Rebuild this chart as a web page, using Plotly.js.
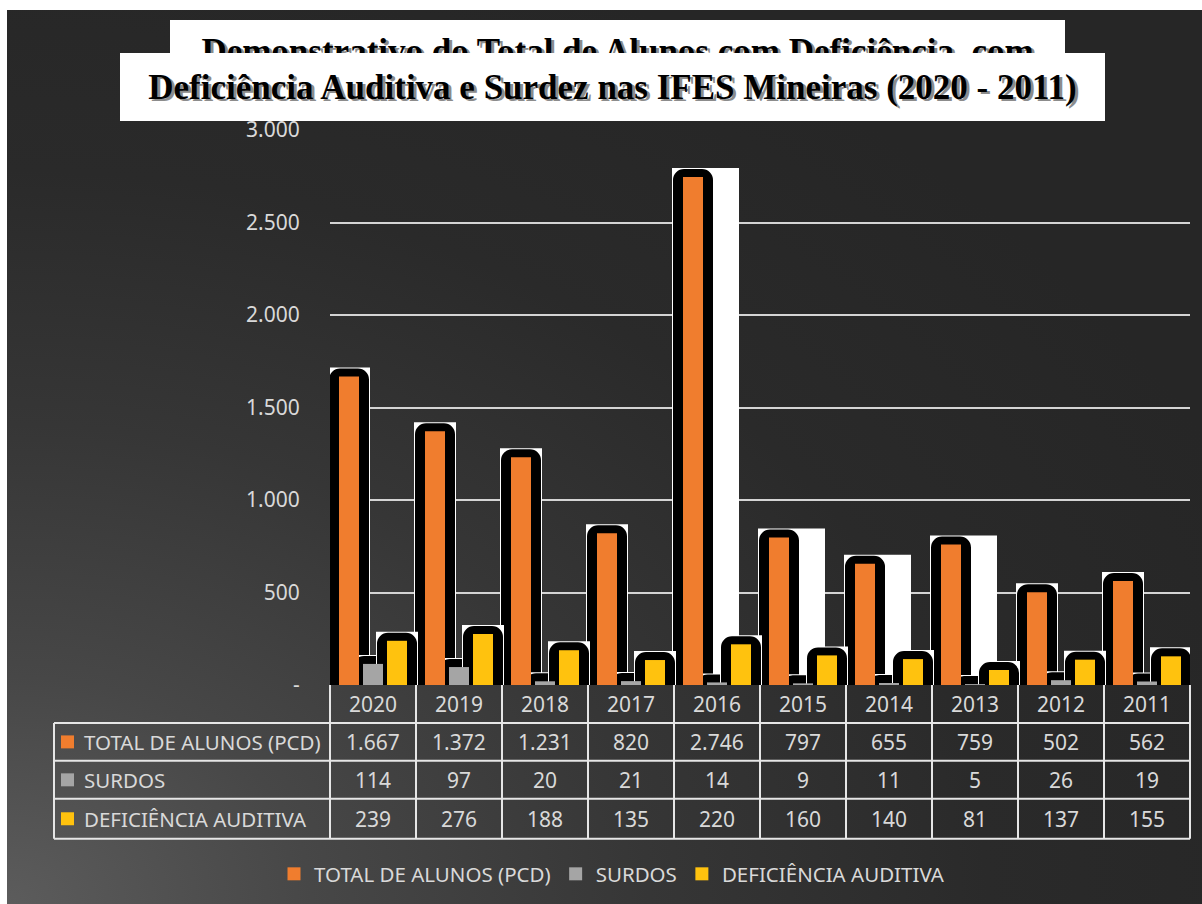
<!DOCTYPE html>
<html>
<head>
<meta charset="utf-8">
<script src="https://cdn.plot.ly/plotly-3.0.1.min.js"></script>
<style>
  html, body { margin: 0; padding: 0; background: #ffffff; width: 1202px; height: 904px; overflow: hidden; }
  #bg { position: absolute; left: 7px; top: 10px; width: 1195px; height: 894px;
        background: radial-gradient(ellipse at 0% 100%, #5c5c5c 0%, #474747 18%, #363636 38%, #2a2a2a 58%, #262626 80%); }
  #chart { position: absolute; left: 0; top: 0; width: 1202px; height: 904px; }
</style>
</head>
<body>
<div id="bg"></div>
<div id="chart"></div>
<script>
// ---------- data ----------
const years = ['2020', '2019', '2018', '2017', '2016', '2015', '2014', '2013', '2012', '2011'];
const totalAlunos = [1667, 1372, 1231, 820, 2746, 797, 655, 759, 502, 562];
const surdos = [114, 97, 20, 21, 14, 9, 11, 5, 26, 19];
const defAuditiva = [239, 276, 188, 135, 220, 160, 140, 81, 137, 155];
const seriesNames = ['TOTAL DE ALUNOS (PCD)', 'SURDOS', 'DEFICIÊNCIA AUDITIVA'];
const yTickVals = [0, 500, 1000, 1500, 2000, 2500, 3000];
const yTickText = ['-', '500', '1.000', '1.500', '2.000', '2.500', '3.000'];
const titleLine1 = 'Demonstrativo do Total de Alunos com Deficiência, com';
const titleLine2 = 'Deficiência Auditiva e Surdez nas IFES Mineiras (2020 - 2011)';

// ---------- styles ----------
const colors = ['#F07D2E', '#A5A5A5', '#FFC20E'];
const wideShadow = [false, false, false, false, true, true, true, true, false, false];
const W = 1202, H = 904, L = 330, R = 12, T = 130, B = 218;
const PW = W - L - R, PH = H - T - B;
const px2x = px => (px - L) / PW;
const px2y = py => (H - B - py) / PH;
const catPx = PW / years.length;
const u = px => px / catPx;
const textCol = '#d9d9d9';
const fontSans = 'Noto Sans, Open Sans, sans-serif';

function fmt(v) { return String(v).replace(/\B(?=(\d{3})+(?!\d))/g, '.'); }

// white halo box behind each bar
function haloTrace(vals, centerPx, wideFlags) {
  return {
    type: 'bar', x: years, y: vals, showlegend: false, hoverinfo: 'skip',
    offset: vals.map(() => u(centerPx - 12)),
    width: vals.map((v, i) => u(wideFlags && wideFlags[i] ? 49 : 24)),
    marker: { color: '#ffffff', line: { color: '#ffffff', width: 18 } }
  };
}
// thick black outline
function outlineTrace(vals, centerPx) {
  return {
    type: 'bar', x: years, y: vals, showlegend: false, hoverinfo: 'skip',
    offset: u(centerPx - 12), width: u(24),
    marker: { color: '#000000', line: { color: '#000000', width: 16 }, cornerradius: 3 }
  };
}
// coloured bar
function fillTrace(vals, color, centerPx, name) {
  return {
    type: 'bar', x: years, y: vals, name: name, showlegend: false,
    offset: u(centerPx - 10), width: u(20),
    marker: { color: color, line: { width: 0 } }
  };
}
const centers = [-24, 0, 24];
const seriesVals = [totalAlunos, surdos, defAuditiva];

const traces = [];
seriesVals.forEach((vals, k) => {
  traces.push(haloTrace(vals, centers[k], k === 0 ? wideShadow : null));
  traces.push(outlineTrace(vals, centers[k]));
});
seriesVals.forEach((vals, k) => {
  traces.push(fillTrace(vals, colors[k], centers[k], seriesNames[k]));
});
// legend entries
seriesNames.forEach((n, k) => {
  traces.push({ type: 'scatter', mode: 'markers', x: [years[0]], y: [-1000], name: n,
    marker: { symbol: 'square', size: 13, color: colors[k] }, hoverinfo: 'skip', cliponaxis: true });
});

// ---------- table ----------
const shapes = [];
const annotations = [];
const lineStyle = { color: '#e6e6e6', width: 2 };
const rowTops = [686, 724, 762, 800, 840];
const tableLeft = 54, tableRight = L + PW;
[724, 762, 800, 840].forEach(py => {
  shapes.push({ type: 'line', xref: 'paper', yref: 'paper', x0: px2x(tableLeft), x1: px2x(tableRight),
    y0: px2y(py), y1: px2y(py), line: lineStyle, layer: 'above' });
});
for (let i = 0; i <= years.length; i++) {
  const px = L + i * catPx;
  shapes.push({ type: 'line', xref: 'paper', yref: 'paper', x0: px2x(px), x1: px2x(px),
    y0: px2y(686), y1: px2y(840), line: lineStyle, layer: 'above' });
}
shapes.push({ type: 'line', xref: 'paper', yref: 'paper', x0: px2x(tableLeft), x1: px2x(tableLeft),
  y0: px2y(724), y1: px2y(840), line: lineStyle, layer: 'above' });

years.forEach((yr, i) => {
  annotations.push({ xref: 'x', yref: 'paper', x: i, y: px2y(705), text: yr, showarrow: false,
    font: { family: fontSans, size: 21, color: textCol }, xanchor: 'center', yanchor: 'middle' });
});
seriesVals.forEach((vals, k) => {
  const cy = (rowTops[k + 1] + rowTops[k + 2]) / 2;
  annotations.push({ xref: 'paper', yref: 'paper', x: px2x(82), y: px2y(cy), text: seriesNames[k],
    showarrow: false, xanchor: 'left', yanchor: 'middle',
    font: { family: fontSans, size: 20.5, color: textCol } });
  shapes.push({ type: 'rect', xref: 'paper', yref: 'paper', x0: px2x(61), x1: px2x(74),
    y0: px2y(cy - 6.5), y1: px2y(cy + 6.5), fillcolor: colors[k], line: { width: 0 }, layer: 'above' });
  vals.forEach((v, i) => {
    annotations.push({ xref: 'x', yref: 'paper', x: i, y: px2y(cy), text: fmt(v), showarrow: false,
      xanchor: 'center', yanchor: 'middle', font: { family: fontSans, size: 21, color: textCol } });
  });
});

// ---------- title ----------
const titleFont = { family: 'Liberation Serif, DejaVu Serif, serif', size: 35, weight: 'bold', color: '#000000',
  shadow: '3px 2px 0px #8c8c8c' };
annotations.push({ xref: 'paper', yref: 'paper', x: px2x(617), y: px2y(20), xanchor: 'center', yanchor: 'top',
  width: 895, height: 62, bgcolor: '#ffffff', borderpad: 0, borderwidth: 0, valign: 'middle',
  text: titleLine1, showarrow: false, font: titleFont });
annotations.push({ xref: 'paper', yref: 'paper', x: px2x(612), y: px2y(53), xanchor: 'center', yanchor: 'top',
  width: 985, height: 68, bgcolor: '#ffffff', borderpad: 0, borderwidth: 0, valign: 'middle',
  text: titleLine2, showarrow: false, font: titleFont });

const layout = {
  width: W, height: H,
  margin: { l: L, r: R, t: T, b: B, pad: 0 },
  paper_bgcolor: 'rgba(0,0,0,0)', plot_bgcolor: 'rgba(0,0,0,0)',
  barmode: 'overlay',
  showlegend: true,
  legend: { orientation: 'h', x: px2x(612), xanchor: 'center', y: px2y(874), yanchor: 'middle',
    font: { family: fontSans, size: 20.5, color: textCol }, bgcolor: 'rgba(0,0,0,0)', itemwidth: 30,
    traceorder: 'normal' },
  xaxis: { type: 'category', categoryorder: 'array', categoryarray: years, range: [-0.5, years.length - 0.5],
    autorange: false, showticklabels: false, showgrid: false, zeroline: false, showline: false, ticks: '',
    fixedrange: true },
  yaxis: { range: [0, 3000], autorange: false, tickvals: yTickVals, ticktext: yTickText, showgrid: true,
    gridcolor: '#d4d4d4', gridwidth: 2, zeroline: false, showline: false,
    ticks: 'outside', ticklen: 25, tickcolor: 'rgba(0,0,0,0)',
    tickfont: { family: fontSans, size: 21, color: textCol }, fixedrange: true },
  shapes: shapes,
  annotations: annotations
};

Plotly.newPlot('chart', traces, layout, { displayModeBar: false, staticPlot: true });
</script>
</body>
</html>
